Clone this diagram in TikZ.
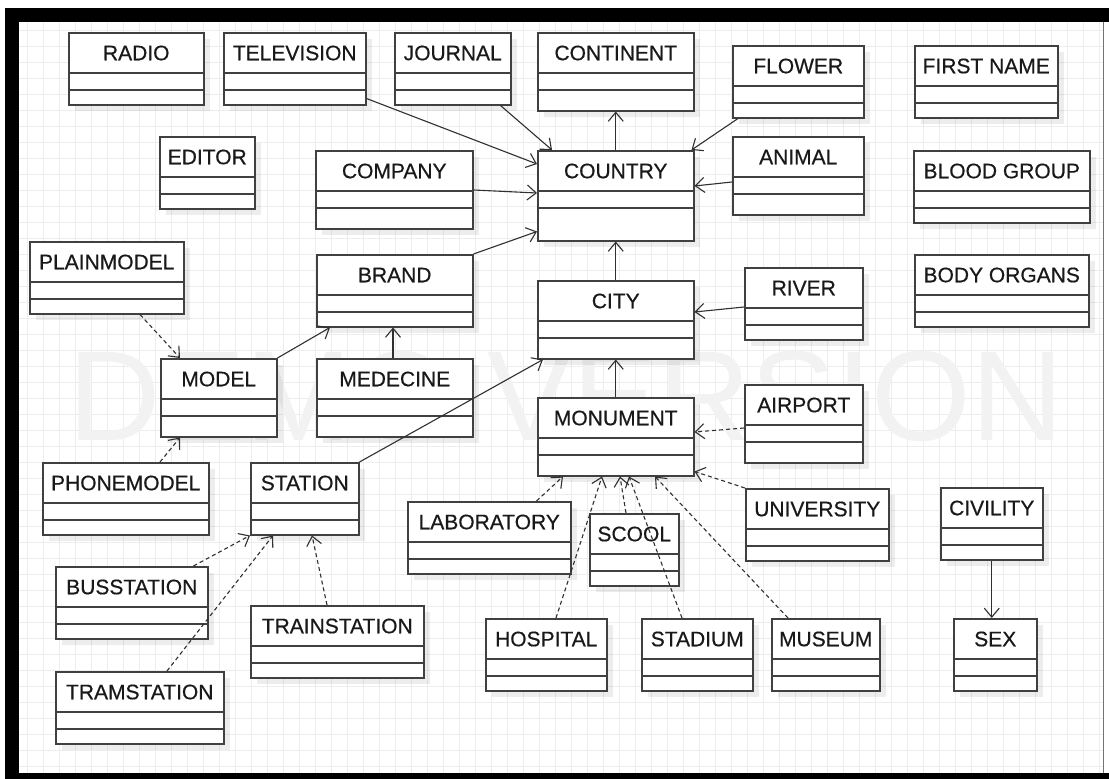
\documentclass[tikz,border=0pt]{standalone}
\usepackage{fontspec}
\setmainfont{Liberation Sans}
\newfontfamily\classfont[FakeBold=0.5]{Liberation Sans}
\usetikzlibrary{arrows.meta,shadows}
\usepackage{xcolor}

\definecolor{boxline}{HTML}{404040}
\definecolor{linkline}{HTML}{303030}

\begin{document}
\begin{tikzpicture}[x=1pt, y=-1pt,
		classbox/.style={rectangle, draw=boxline, fill=white, line width=1.5pt, anchor=north west,
			minimum height=72pt, text height=15pt, text depth=32pt, inner xsep=0pt, inner ysep=0pt,
			font=\classfont\fontsize{21}{21}\selectfont, text=black!90,
			drop shadow={shadow xshift=6pt, shadow yshift=-6pt, opacity=0.07, fill=black},
			path picture={\draw[boxline, line width=1.5pt]
				([yshift=-40pt]path picture bounding box.north west) -- ([yshift=-40pt]path picture bounding box.north east)
				([yshift=-57pt]path picture bounding box.north west) -- ([yshift=-57pt]path picture bounding box.north east);}},
		tallbox/.style={classbox, minimum height=78pt, text depth=38pt},
		assoc/.style={draw=linkline, line width=1.1pt, -{Straight Barb[length=9pt,width=15pt]}},
		depend/.style={assoc, dash pattern=on 4pt off 3pt},
		gridline/.style={draw=black!7, line width=0.6pt},
		watermark/.style={text=black!5, font=\fontsize{128}{128}\selectfont},
		]
		\useasboundingbox (0,0) rectangle (1109,779);
		
		% Frame and grid
		\fill[black] (5,8) rectangle (1109,779);
		\fill[white] (19,22) rectangle (1109,773);
		\foreach \gx in {27,43,...,1100} \draw[gridline] (\gx,22) -- (\gx,773);
		\foreach \gy in {30,46,...,770} \draw[gridline] (19,\gy) -- (1103,\gy);
		\draw[black!55, line width=1pt] (1103,22) -- (1103,773);
		\node[watermark] (demo) at (566,396) {DEMO VERSION};
		
		%Classes
		\node[classbox, minimum width=135pt]  (radio)        at (68,32)   {RADIO};
		\node[classbox, minimum width=142pt]  (television)   at (223,32)  {TELEVISION};
		\node[classbox, minimum width=116pt]  (journal)      at (394,32)  {JOURNAL};
		\node[tallbox,  minimum width=156pt]  (continent)    at (537,32)  {CONTINENT};
		\node[classbox, minimum width=131pt]  (flower)       at (732,45)  {FLOWER};
		\node[classbox, minimum width=143pt]  (first-name)   at (914,45)  {FIRST NAME};
		\node[classbox, minimum width=95pt]   (editor)       at (159,136) {EDITOR};
		\node[tallbox,  minimum width=157pt]  (company)      at (315,150) {COMPANY};
		\node[classbox, minimum width=156pt, minimum height=90pt, text depth=50pt] (country) at (537,150) {COUNTRY};
		\node[tallbox,  minimum width=131pt]  (animal)       at (732,136) {ANIMAL};
		\node[classbox, minimum width=176pt]  (blood-group)  at (913,150) {BLOOD GROUP};
		\node[classbox, minimum width=154pt]  (plainmodel)   at (29,241)  {PLAINMODEL};
		\node[classbox, minimum width=156pt]  (brand)        at (316,254) {BRAND};
		\node[tallbox,  minimum width=156pt]  (city)         at (537,280) {CITY};
		\node[classbox, minimum width=118pt]  (river)        at (744,267) {RIVER};
		\node[classbox, minimum width=174pt]  (body-organs)  at (914,254) {BODY ORGANS};
		\node[tallbox,  minimum width=116pt]  (model)        at (160,358) {MODEL};
		\node[tallbox,  minimum width=156pt]  (medecine)     at (316,358) {MEDECINE};
		\node[tallbox,  minimum width=156pt]  (monument)     at (537,397) {MONUMENT};
		\node[tallbox,  minimum width=118pt]  (airport)      at (744,384) {AIRPORT};
		\node[classbox, minimum width=166pt]  (phonemodel)   at (42,462)  {PHONEMODEL};
		\node[classbox, minimum width=108pt]  (station)      at (250,462) {STATION};
		\node[classbox, minimum width=163pt]  (laboratory)   at (407,501) {LABORATORY};
		\node[classbox, minimum width=89pt]   (scool)        at (589,513) {SCOOL};
		\node[classbox, minimum width=143pt]  (university)   at (745,488) {UNIVERSITY};
		\node[classbox, minimum width=102pt]  (civility)     at (940,487) {CIVILITY};
		\node[classbox, minimum width=152pt]  (busstation)   at (55,566)  {BUSSTATION};
		\node[classbox, minimum width=173pt]  (trainstation) at (250,605) {TRAINSTATION};
		\node[classbox, minimum width=121pt]  (hospital)     at (485,618) {HOSPITAL};
		\node[classbox, minimum width=111pt]  (stadium)      at (641,618) {STADIUM};
		\node[classbox, minimum width=108pt]  (museum)       at (771,618) {MUSEUM};
		\node[classbox, minimum width=83pt]   (sex)          at (953,618) {SEX};
		\node[classbox, minimum width=168pt]  (tramstation)  at (55,671)  {TRAMSTATION};
		
		%Associations
		\draw[assoc] ([yshift=7pt]television.south east) -- ([yshift=-14pt]country.north west);
		\draw[assoc] ([xshift=-11pt]journal.south east) -- ([xshift=15pt]country.north west);
		\draw[assoc] (country.north) -- (continent.south);
		\draw[assoc] ([xshift=6pt]flower.south west) -- ([xshift=-3pt]country.north east);
		\draw[assoc] ([yshift=-46pt]animal.north west) -- ([yshift=-36pt]country.north east);
		\draw[assoc] ([yshift=-40pt]company.north east) -- ([yshift=-43pt]country.north west);
		\draw[assoc] (brand.north east) -- ([yshift=10pt]country.south west);
		\draw[assoc] (city.north) -- (country.south);
		\draw[assoc] ([yshift=-40pt]river.north west) -- ([yshift=-32pt]city.north east);
		\draw[assoc] (monument.north) -- (city.south);
		\draw[assoc] (station.north east) -- ([xshift=6pt]city.south west);
		\draw[assoc] (model.north east) -- ([xshift=14pt]brand.south west);
		\draw[assoc] ([xshift=77pt]medecine.north west) -- ([xshift=77pt]brand.south west);
		\draw[assoc] (civility.south) -- (civility.south |- sex.north);
		
		%Dependencies
		\draw[depend] ([xshift=111pt]plainmodel.south west) -- ([xshift=20pt]model.north west);
		\draw[depend] ([xshift=118pt]phonemodel.north west) -- ([xshift=20pt]model.south west);
		\draw[depend] ([xshift=-15pt]busstation.north east) -- (station.south west);
		\draw[depend] ([xshift=112pt]tramstation.north west) -- ([xshift=23pt]station.south west);
		\draw[depend] ([xshift=77pt]trainstation.north west) -- ([xshift=62pt]station.south west);
		\draw[depend] ([yshift=-44pt]airport.north west) -- ([yshift=-35pt]monument.north east);
		\draw[depend] (university.north west) -- ([yshift=5pt]monument.south east);
		\draw[depend] ([xshift=-35pt]laboratory.north east) -- ([xshift=26pt]monument.south west);
		\draw[depend] ([xshift=71pt]hospital.north west) -- ([xshift=65pt]monument.south west);
		\draw[depend] ([xshift=37pt]scool.north west) -- ([xshift=83pt]monument.south west);
		\draw[depend] ([xshift=41pt]stadium.north west) -- ([xshift=92pt]monument.south west);
		\draw[depend] ([xshift=17pt]museum.north west) -- ([xshift=118pt]monument.south west);
	\end{tikzpicture}
\end{document}
